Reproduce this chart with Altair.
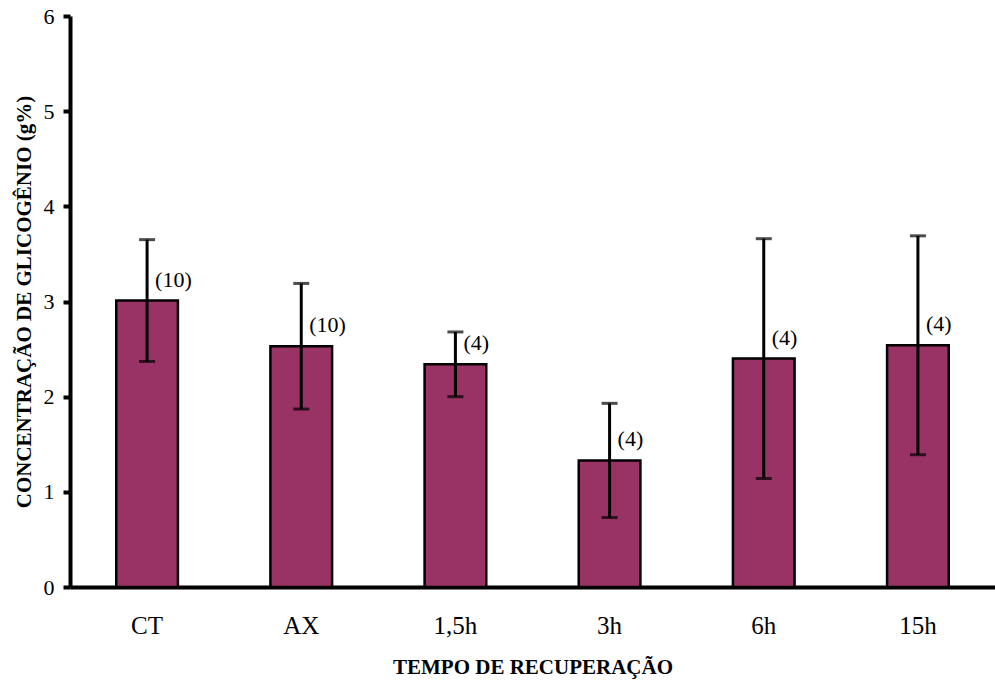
import altair as alt
import pandas as pd

# Glycogen concentration by recovery time (mean, SD, n)
groups = ["CT", "AX", "1,5h", "3h", "6h", "15h"]
means = [3.01, 2.53, 2.34, 1.33, 2.40, 2.54]
sds = [0.64, 0.66, 0.34, 0.60, 1.26, 1.15]
ns = ["(10)", "(10)", "(4)", "(4)", "(4)", "(4)"]

df = pd.DataFrame({
    "grupo": groups,
    "media": means,
    "dp": sds,
    "n": ns,
})
df["lo"] = df["media"] - df["dp"]
df["hi"] = df["media"] + df["dp"]

FONT = "Liberation Serif"

x_scale = alt.Scale(paddingInner=0.6, paddingOuter=0.3)
y_scale = alt.Scale(domain=[0, 6], nice=False)

x_axis = alt.Axis(
    title="TEMPO DE RECUPERAÇÃO",
    labelAngle=0,
    ticks=False,
    labelFont=FONT,
    labelFontSize=25,
    labelColor="black",
    labelPadding=26,
    domainColor="black",
    domainWidth=4,
    titleFont=FONT,
    titleFontSize=21,
    titleFontWeight="bold",
    titleColor="black",
    titlePadding=18,
)
y_axis = alt.Axis(
    title="CONCENTRAÇÃO DE GLICOGÊNIO (g%)",
    values=[0, 1, 2, 3, 4, 5, 6],
    format="d",
    grid=False,
    labelFont=FONT,
    labelFontSize=22,
    labelColor="black",
    labelPadding=9,
    ticks=True,
    tickSize=7,
    tickWidth=4,
    tickColor="black",
    domainColor="black",
    domainWidth=4,
    titleFont=FONT,
    titleFontSize=21,
    titleFontWeight="bold",
    titleColor="black",
    titlePadding=9,
)

# every layer carries the same axis definition, so the merged axes agree
xs = alt.X("grupo:N", sort=groups, scale=x_scale, axis=x_axis)


def ys(field):
    return alt.Y(field, scale=y_scale, axis=y_axis)


base = alt.Chart(df)

bars = base.mark_bar(color="#993366", stroke="black", strokeWidth=2.5).encode(
    x=xs,
    y=ys("media:Q"),
)

err = base.mark_rule(color="black", strokeWidth=3).encode(
    x=xs,
    y=ys("lo:Q"),
    y2="hi:Q",
)

cap_hi = base.mark_tick(color="black", thickness=3, size=16).encode(
    x=xs,
    y=ys("hi:Q"),
)
cap_lo = base.mark_tick(color="black", thickness=3, size=16).encode(
    x=xs,
    y=ys("lo:Q"),
)

labels = base.mark_text(
    font=FONT, fontSize=22, color="black", align="left", baseline="middle", dx=8, dy=-21
).encode(
    x=xs,
    y=ys("media:Q"),
    text="n:N",
)

chart = (
    alt.layer(bars, err, cap_hi, cap_lo, labels)
    .properties(
        width=925,
        height=571,
        autosize=alt.AutoSizeParams(type="none"),
        padding={"left": 70, "top": 16, "right": 0, "bottom": 95},
        background="white",
    )
    .configure_view(stroke=None, strokeWidth=0)
)

chart.save("out.html", embed_options={"renderer": "svg", "actions": False})
